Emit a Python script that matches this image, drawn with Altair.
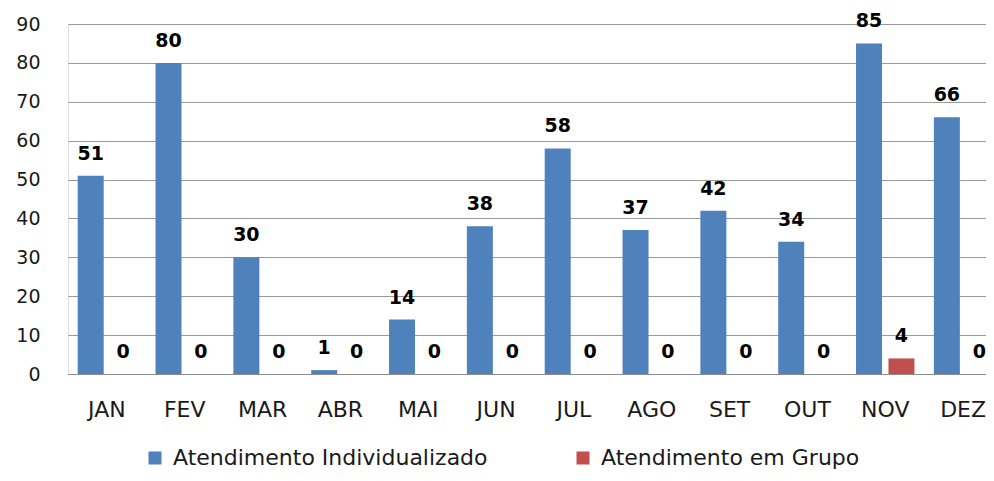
import altair as alt
import pandas as pd

months = ["JAN", "FEV", "MAR", "ABR", "MAI", "JUN", "JUL", "AGO", "SET", "OUT", "NOV", "DEZ"]
individual = [51, 80, 30, 1, 14, 38, 58, 37, 42, 34, 85, 66]
group = [0, 0, 0, 0, 0, 0, 0, 0, 0, 0, 4, 0]
series = ["Atendimento Individualizado", "Atendimento em Grupo"]
colors = ["#4F81BD", "#C0504D"]
y_ticks = [0, 10, 20, 30, 40, 50, 60, 70, 80, 90]

rows = []
for m, a, b in zip(months, individual, group):
    rows.append({"mes": m, "serie": series[0], "valor": a})
    rows.append({"mes": m, "serie": series[1], "valor": b})
df = pd.DataFrame(rows)

FONT = "DejaVu Sans"

x = alt.X(
    "mes:N",
    sort=months,
    scale=alt.Scale(range=[0, 934], paddingInner=0, paddingOuter=0),
    axis=alt.Axis(
        title=None, labelAngle=0, ticks=False, labelPadding=25,
        labelFontSize=22, labelFont=FONT, labelColor="#1a1a1a",
        domainColor="#8c8c8c", domainWidth=1, grid=False,
    ),
)
xo = alt.XOffset("serie:N", sort=series, scale=alt.Scale(paddingInner=0.2, paddingOuter=0.3))
y = alt.Y(
    "valor:Q",
    scale=alt.Scale(domain=[0, 90], nice=False),
    axis=alt.Axis(
        title=None, values=y_ticks, domain=False, ticks=False, labelPadding=28,
        labelFontSize=19, labelFont=FONT, labelColor="#1a1a1a",
        gridColor="#9a9a9a", gridWidth=1,
    ),
)
color = alt.Color(
    "serie:N",
    sort=series,
    scale=alt.Scale(domain=series, range=colors),
    legend=alt.Legend(
        title=None, orient="none", legendX=76, legendY=423, direction="horizontal",
        symbolType="square", symbolSize=169, symbolStrokeWidth=0, symbolOpacity=1,
        labelFontSize=22, labelFont=FONT, labelColor="#1a1a1a", labelOffset=7,
        labelLimit=500, columnPadding=84, padding=0,
    ),
)

bars = alt.Chart(df).mark_bar(size=26).encode(x=x, xOffset=xo, y=y, color=color)
labels = alt.Chart(df).mark_text(
    font=FONT, fontSize=19, fontWeight="bold", color="#000000",
    baseline="alphabetic", dy=-16,
).encode(x=x, xOffset=xo, y=y, text=alt.Text("valor:Q"))

chart = alt.layer(bars, labels).properties(
    width=918, height=350,
    autosize=alt.AutoSizeParams(type="none"),
    padding={"left": 60, "top": 16, "right": 0, "bottom": 99},
).configure_view(stroke=None).configure(background="white")

chart.save("out.html", embed_options={"renderer": "svg", "actions": False})
